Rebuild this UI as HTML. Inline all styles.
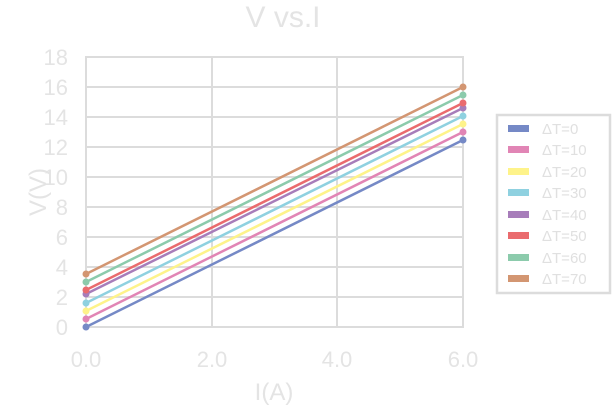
<!DOCTYPE html>
<html><head><style>body{margin:0;background:#fff;}svg{display:block}</style></head><body>
<svg width="612" height="407" xmlns="http://www.w3.org/2000/svg" font-family="Liberation Sans, DejaVu Sans, sans-serif">
<rect width="612" height="407" fill="#fff"/>
<text x="283" y="27" font-size="30" fill="#e4e4e4" text-anchor="middle">V vs.I</text>
<g stroke="#dcdcdc" stroke-width="2" fill="none">
<rect x="86" y="57" width="377" height="270"/>
<line x1="212" y1="57" x2="212" y2="327"/><line x1="337" y1="57" x2="337" y2="327"/>
<line x1="86" y1="87" x2="463" y2="87"/><line x1="86" y1="117" x2="463" y2="117"/><line x1="86" y1="147" x2="463" y2="147"/><line x1="86" y1="177" x2="463" y2="177"/><line x1="86" y1="207" x2="463" y2="207"/><line x1="86" y1="237" x2="463" y2="237"/><line x1="86" y1="267" x2="463" y2="267"/><line x1="86" y1="297" x2="463" y2="297"/>
</g>
<g font-size="22" fill="#e4e4e4" text-anchor="end">
<text x="68" y="335">0</text><text x="68" y="305">2</text><text x="68" y="275">4</text><text x="68" y="245">6</text><text x="68" y="215">8</text><text x="68" y="185">10</text><text x="68" y="155">12</text><text x="68" y="125">14</text><text x="68" y="95">16</text><text x="68" y="65">18</text>
</g>
<g font-size="22" fill="#e4e4e4" text-anchor="middle">
<text x="86" y="367">0.0</text><text x="212" y="367">2.0</text><text x="337" y="367">4.0</text><text x="463" y="367">6.0</text>
<text x="274" y="400" font-size="24">I(A)</text>
<text transform="translate(46,192) rotate(-90)" font-size="24">V(V)</text>
</g>
<g stroke-width="2.5">
<line x1="86" y1="327" x2="463" y2="140" stroke="#7589c6"/>
<line x1="86" y1="319" x2="463" y2="132" stroke="#e185b5"/>
<line x1="86" y1="311" x2="463" y2="124" stroke="#fef38a"/>
<line x1="86" y1="303" x2="463" y2="116" stroke="#8fd1e0"/>
<line x1="86" y1="294" x2="463" y2="108" stroke="#a77dba"/>
<line x1="86" y1="290" x2="463" y2="103" stroke="#ea6b6e"/>
<line x1="86" y1="282" x2="463" y2="95" stroke="#8ccbac"/>
<line x1="86" y1="274" x2="463" y2="87" stroke="#d39672"/>
</g>
<g>
<circle cx="86" cy="327" r="3.5" fill="#7589c6"/><circle cx="463" cy="140" r="3.5" fill="#7589c6"/>
<circle cx="86" cy="319" r="3.5" fill="#e185b5"/><circle cx="463" cy="132" r="3.5" fill="#e185b5"/>
<circle cx="86" cy="311" r="3.5" fill="#fef38a"/><circle cx="463" cy="124" r="3.5" fill="#fef38a"/>
<circle cx="86" cy="303" r="3.5" fill="#8fd1e0"/><circle cx="463" cy="116" r="3.5" fill="#8fd1e0"/>
<circle cx="86" cy="294" r="3.5" fill="#a77dba"/><circle cx="463" cy="108" r="3.5" fill="#a77dba"/>
<circle cx="86" cy="290" r="3.5" fill="#ea6b6e"/><circle cx="463" cy="103" r="3.5" fill="#ea6b6e"/>
<circle cx="86" cy="282" r="3.5" fill="#8ccbac"/><circle cx="463" cy="95" r="3.5" fill="#8ccbac"/>
<circle cx="86" cy="274" r="3.5" fill="#d39672"/><circle cx="463" cy="87" r="3.5" fill="#d39672"/>
</g>
<rect x="497" y="115" width="113" height="178" fill="#fff" stroke="#dcdcdc" stroke-width="2.5"/>
<g>
<rect x="508" y="125" width="21" height="7" fill="#7589c6"/>
<rect x="508" y="146" width="21" height="7" fill="#e185b5"/>
<rect x="508" y="168" width="21" height="7" fill="#fef38a"/>
<rect x="508" y="189" width="21" height="7" fill="#8fd1e0"/>
<rect x="508" y="211" width="21" height="7" fill="#a77dba"/>
<rect x="508" y="232" width="21" height="7" fill="#ea6b6e"/>
<rect x="508" y="254" width="21" height="7" fill="#8ccbac"/>
<rect x="508" y="275" width="21" height="7" fill="#d39672"/>
</g>
<g font-size="15" fill="#e0e0e0">
<text x="542" y="134">ΔT=0</text><text x="542" y="155">ΔT=10</text><text x="542" y="177">ΔT=20</text><text x="542" y="198">ΔT=30</text><text x="542" y="220">ΔT=40</text><text x="542" y="241">ΔT=50</text><text x="542" y="263">ΔT=60</text><text x="542" y="284">ΔT=70</text>
</g>
</svg>
</body></html>
